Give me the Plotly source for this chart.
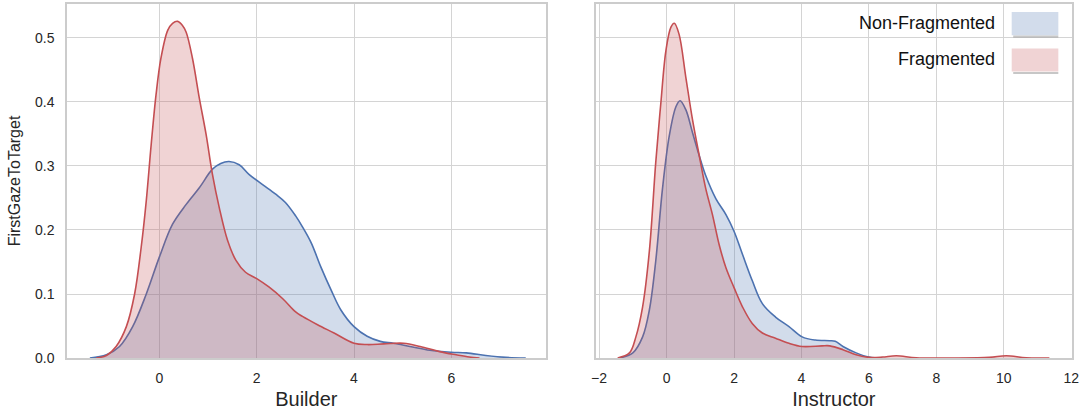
import plotly.graph_objects as go

# ---- data (KDE curves) ----
builder_nonfrag_x = [-1.43, -1.09, -0.82, -0.55, -0.27, 0.0, 0.27, 0.55, 0.82, 1.09, 1.26, 1.43, 1.64, 1.84,
                     2.12, 2.39, 2.59, 2.80, 2.94, 3.12, 3.32, 3.53, 3.73, 4.0, 4.27, 4.54, 4.81, 5.15,
                     5.56, 6.0, 6.31, 6.71, 7.12, 7.53]
builder_nonfrag_y = [0.0, 0.005, 0.018, 0.049, 0.10, 0.158, 0.209, 0.240, 0.266, 0.295, 0.304, 0.307, 0.302, 0.287,
                     0.271, 0.256, 0.243, 0.222, 0.205, 0.180, 0.142, 0.106, 0.075, 0.049, 0.034, 0.026, 0.023, 0.018,
                     0.012, 0.009, 0.008, 0.004, 0.001, 0.0]

builder_frag_x = [-1.30, -1.09, -0.89, -0.68, -0.51, -0.375, -0.27, -0.17, -0.07, 0.03, 0.17, 0.27, 0.375, 0.47,
                  0.55, 0.68, 0.82, 0.96, 1.09, 1.23, 1.40, 1.57, 1.77, 2.0, 2.25, 2.53, 2.80, 2.94, 3.25, 3.59,
                  4.0, 4.27, 4.61, 5.02, 5.36, 5.76, 6.1, 6.37, 6.58]
builder_frag_y = [0.0, 0.004, 0.018, 0.049, 0.10, 0.173, 0.246, 0.333, 0.411, 0.468, 0.512, 0.523, 0.526, 0.520,
                  0.509, 0.468, 0.406, 0.349, 0.287, 0.235, 0.184, 0.153, 0.134, 0.124, 0.111, 0.093, 0.072, 0.065,
                  0.052, 0.039, 0.023, 0.021, 0.022, 0.023, 0.018, 0.010, 0.005, 0.0015, 0.0]

instr_nonfrag_x = [-1.40, -1.0, -0.71, -0.51, -0.32, -0.12, 0.08, 0.28, 0.40, 0.57, 0.77, 0.97, 1.16, 1.46,
                   1.76, 2.0, 2.25, 2.54, 2.84, 3.23, 3.63, 4.02, 4.41, 4.84, 5.0, 5.23, 5.62, 6.0, 6.4]
instr_nonfrag_y = [0.0, 0.008, 0.033, 0.075, 0.152, 0.265, 0.347, 0.393, 0.402, 0.388, 0.352, 0.316, 0.285, 0.249,
                   0.224, 0.198, 0.162, 0.121, 0.085, 0.064, 0.049, 0.033, 0.028, 0.027, 0.026, 0.018, 0.008, 0.0015, 0.0]

instr_frag_x = [-1.45, -1.10, -0.91, -0.71, -0.51, -0.32, -0.17, -0.02, 0.13, 0.23, 0.37, 0.57, 0.77, 0.97,
                1.16, 1.36, 1.56, 1.76, 2.0, 2.25, 2.54, 2.84, 3.23, 3.63, 4.02, 4.61, 4.84, 5.23, 5.62,
                6.0, 6.4, 6.81, 7.4, 8.5, 9.57, 10.07, 10.66, 11.35]
instr_frag_y = [0.0, 0.008, 0.033, 0.080, 0.167, 0.306, 0.398, 0.480, 0.517, 0.523, 0.506, 0.439, 0.372, 0.316,
                0.265, 0.224, 0.177, 0.141, 0.110, 0.080, 0.054, 0.039, 0.031, 0.023, 0.018, 0.019, 0.019, 0.013, 0.005,
                0.001, 0.0015, 0.0036, 0.0003, 0.0, 0.001, 0.0036, 0.0003, 0.0]

series_names = ["Non-Fragmented", "Fragmented"]
x_titles = ["Builder", "Instructor"]
y_title = "FirstGazeToTarget"
y_ticks = [0.0, 0.1, 0.2, 0.3, 0.4, 0.5]
builder_ticks = [0, 2, 4, 6]
instr_ticks = [-2, 0, 2, 4, 6, 8, 10, 12]

BLUE = "#4C72B0"
RED = "#C44E52"
BLUE_FILL = "rgba(76,114,176,0.25)"
RED_FILL = "rgba(196,78,82,0.25)"
FONT = "Liberation Sans, Arial, Helvetica, sans-serif"
GRID = "#d4d4d4"

fig = go.Figure()


def add_kde(x, y, xa, ya, color, fill, name):
    fig.add_trace(go.Scatter(
        x=x, y=y, xaxis=xa, yaxis=ya, mode="lines", name=name,
        line=dict(color=color, width=1.6, shape="spline", smoothing=1.0),
        fill="tozeroy", fillcolor=fill, showlegend=False, hoverinfo="x+y+name"))


add_kde(builder_nonfrag_x, builder_nonfrag_y, "x", "y", BLUE, BLUE_FILL, series_names[0])
add_kde(builder_frag_x, builder_frag_y, "x", "y", RED, RED_FILL, series_names[1])
add_kde(instr_nonfrag_x, instr_nonfrag_y, "x2", "y2", BLUE, BLUE_FILL, series_names[0])
add_kde(instr_frag_x, instr_frag_y, "x2", "y2", RED, RED_FILL, series_names[1])

axis_common = dict(showgrid=True, gridcolor=GRID, gridwidth=1.3, zeroline=False,
                   showline=True, mirror=True, linecolor="#cccccc", linewidth=1.5,
                   ticks="", tickfont=dict(family=FONT, size=14, color="#262626"))

fig.update_layout(
    width=1084, height=412,
    margin=dict(l=67, r=12, t=2, b=54),
    paper_bgcolor="white", plot_bgcolor="white",
    font=dict(family=FONT, color="#262626"),
    showlegend=False,
    xaxis=dict(domain=[0, 0.4763], range=[-1.9, 7.94], tickvals=builder_ticks, anchor="y",
               title=dict(text=x_titles[0], font=dict(size=20, family=FONT), standoff=7),
               ticklabelstandoff=6, **axis_common),
    yaxis=dict(domain=[0, 1], range=[0, 0.5531], tickvals=y_ticks, tickformat=".1f", anchor="x",
               title=dict(text=y_title, font=dict(size=16, family=FONT), standoff=10),
               ticklabelstandoff=8, **axis_common),
    xaxis2=dict(domain=[0.5261, 1], range=[-2.1, 12.02], tickvals=instr_ticks, anchor="y2",
                title=dict(text=x_titles[1], font=dict(size=20, family=FONT), standoff=7),
                ticklabelstandoff=6, **axis_common),
    yaxis2=dict(domain=[0, 1], range=[0, 0.5531], tickvals=y_ticks, anchor="x2", matches="y",
                showticklabels=False, **axis_common),
)

# manual legend (label on the left, patch on the right, as in the reference)
legend_items = [(series_names[0], BLUE_FILL, 0.9775, 0.912, 0.9475),
                (series_names[1], RED_FILL, 0.8744, 0.809, 0.8447)]
for name, fillc, ytop, ybot, ytext in legend_items:
    fig.add_shape(type="line", xref="paper", yref="paper", x0=0.9415, x1=0.9864,
                  y0=ybot - 0.004, y1=ybot - 0.004,
                  line=dict(color="rgba(0,0,0,0.22)", width=2))
    fig.add_shape(type="rect", xref="paper", yref="paper", x0=0.940, x1=0.9864, y0=ybot, y1=ytop,
                  line=dict(width=0), fillcolor=fillc)
    fig.add_annotation(text=name, xref="paper", yref="paper", x=0.925, y=ytext,
                       xanchor="right", yanchor="middle", showarrow=False,
                       font=dict(family=FONT, size=18, color="#111111"))

fig.write_html("out.html", config={"displayModeBar": False},
               post_script="document.body.style.margin='0px';")
